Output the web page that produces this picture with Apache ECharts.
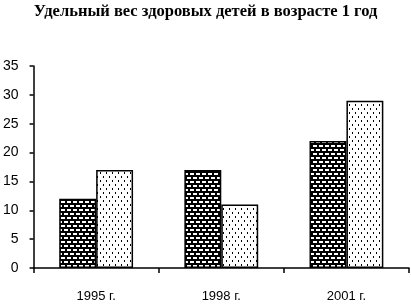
<!DOCTYPE html>
<html><head><meta charset="utf-8">
<script src="https://cdn.jsdelivr.net/npm/echarts@6/dist/echarts.min.js"></script>
<style>html,body{margin:0;padding:0;background:#fff}#c{width:411px;height:304px}</style>
</head><body><div id="c"></div>
<script>
var title = 'Удельный вес здоровых детей в возрасте 1 год';
var categories = ['1995 г.', '1998 г.', '2001 г.'];
var seriesA = [12, 17, 22];
var seriesB = [17, 11, 29];
var yTicks = [0, 5, 10, 15, 20, 25, 30, 35];

function brick() {
  var c = document.createElement('canvas'); c.width = 12; c.height = 8;
  var g = c.getContext('2d');
  g.fillStyle = '#000'; g.fillRect(0, 0, 12, 8);
  g.fillStyle = '#fff';
  g.fillRect(1, 1, 4, 2); g.fillRect(7, 1, 4, 2);
  g.fillRect(4, 5, 4, 2); g.fillRect(10, 5, 2, 2); g.fillRect(0, 5, 2, 2);
  return c;
}
function dots() {
  var c = document.createElement('canvas'); c.width = 6; c.height = 8;
  var g = c.getContext('2d');
  g.fillStyle = '#fff'; g.fillRect(0, 0, 6, 8);
  g.fillStyle = '#000';
  g.fillRect(1, 0, 1, 2); g.fillRect(4, 4, 1, 2);
  return c;
}
var chart = echarts.init(document.getElementById('c'));
chart.setOption({
  animation: false,
  title: { text: title, left: 'center', top: -2,
    textStyle: { fontFamily: 'Liberation Serif', fontSize: 16.5, fontWeight: 'bold', color: '#000' } },
  grid: { left: 32, right: 2, top: 66, bottom: 36 },
  xAxis: { type: 'category', data: categories,
    axisLine: { lineStyle: { color: '#000', width: 1.5 } },
    axisTick: { show: true, inside: false, length: 5, lineStyle: { color: '#000', width: 1.5 } },
    axisLabel: { color: '#000', fontFamily: 'Liberation Sans', fontSize: 13, margin: 22 } },
  yAxis: { type: 'value', min: 0, max: 35, interval: 5,
    axisLine: { show: true, lineStyle: { color: '#000', width: 1.5 } },
    axisTick: { show: true, length: 4, lineStyle: { color: '#000', width: 1.5 } },
    splitLine: { show: false },
    axisLabel: { color: '#000', fontFamily: 'Liberation Sans', fontSize: 14, margin: 15,
      formatter: function (v) { return yTicks.indexOf(v) >= 0 ? String(v) : ''; } } },
  series: [
    { type: 'bar', data: seriesA, barGap: '0%', barCategoryGap: '41%',
      itemStyle: { color: { image: brick(), repeat: 'repeat' }, borderColor: '#000', borderWidth: 1.5 } },
    { type: 'bar', data: seriesB,
      itemStyle: { color: { image: dots(), repeat: 'repeat' }, borderColor: '#000', borderWidth: 1.5 } }
  ]
});
</script></body></html>
